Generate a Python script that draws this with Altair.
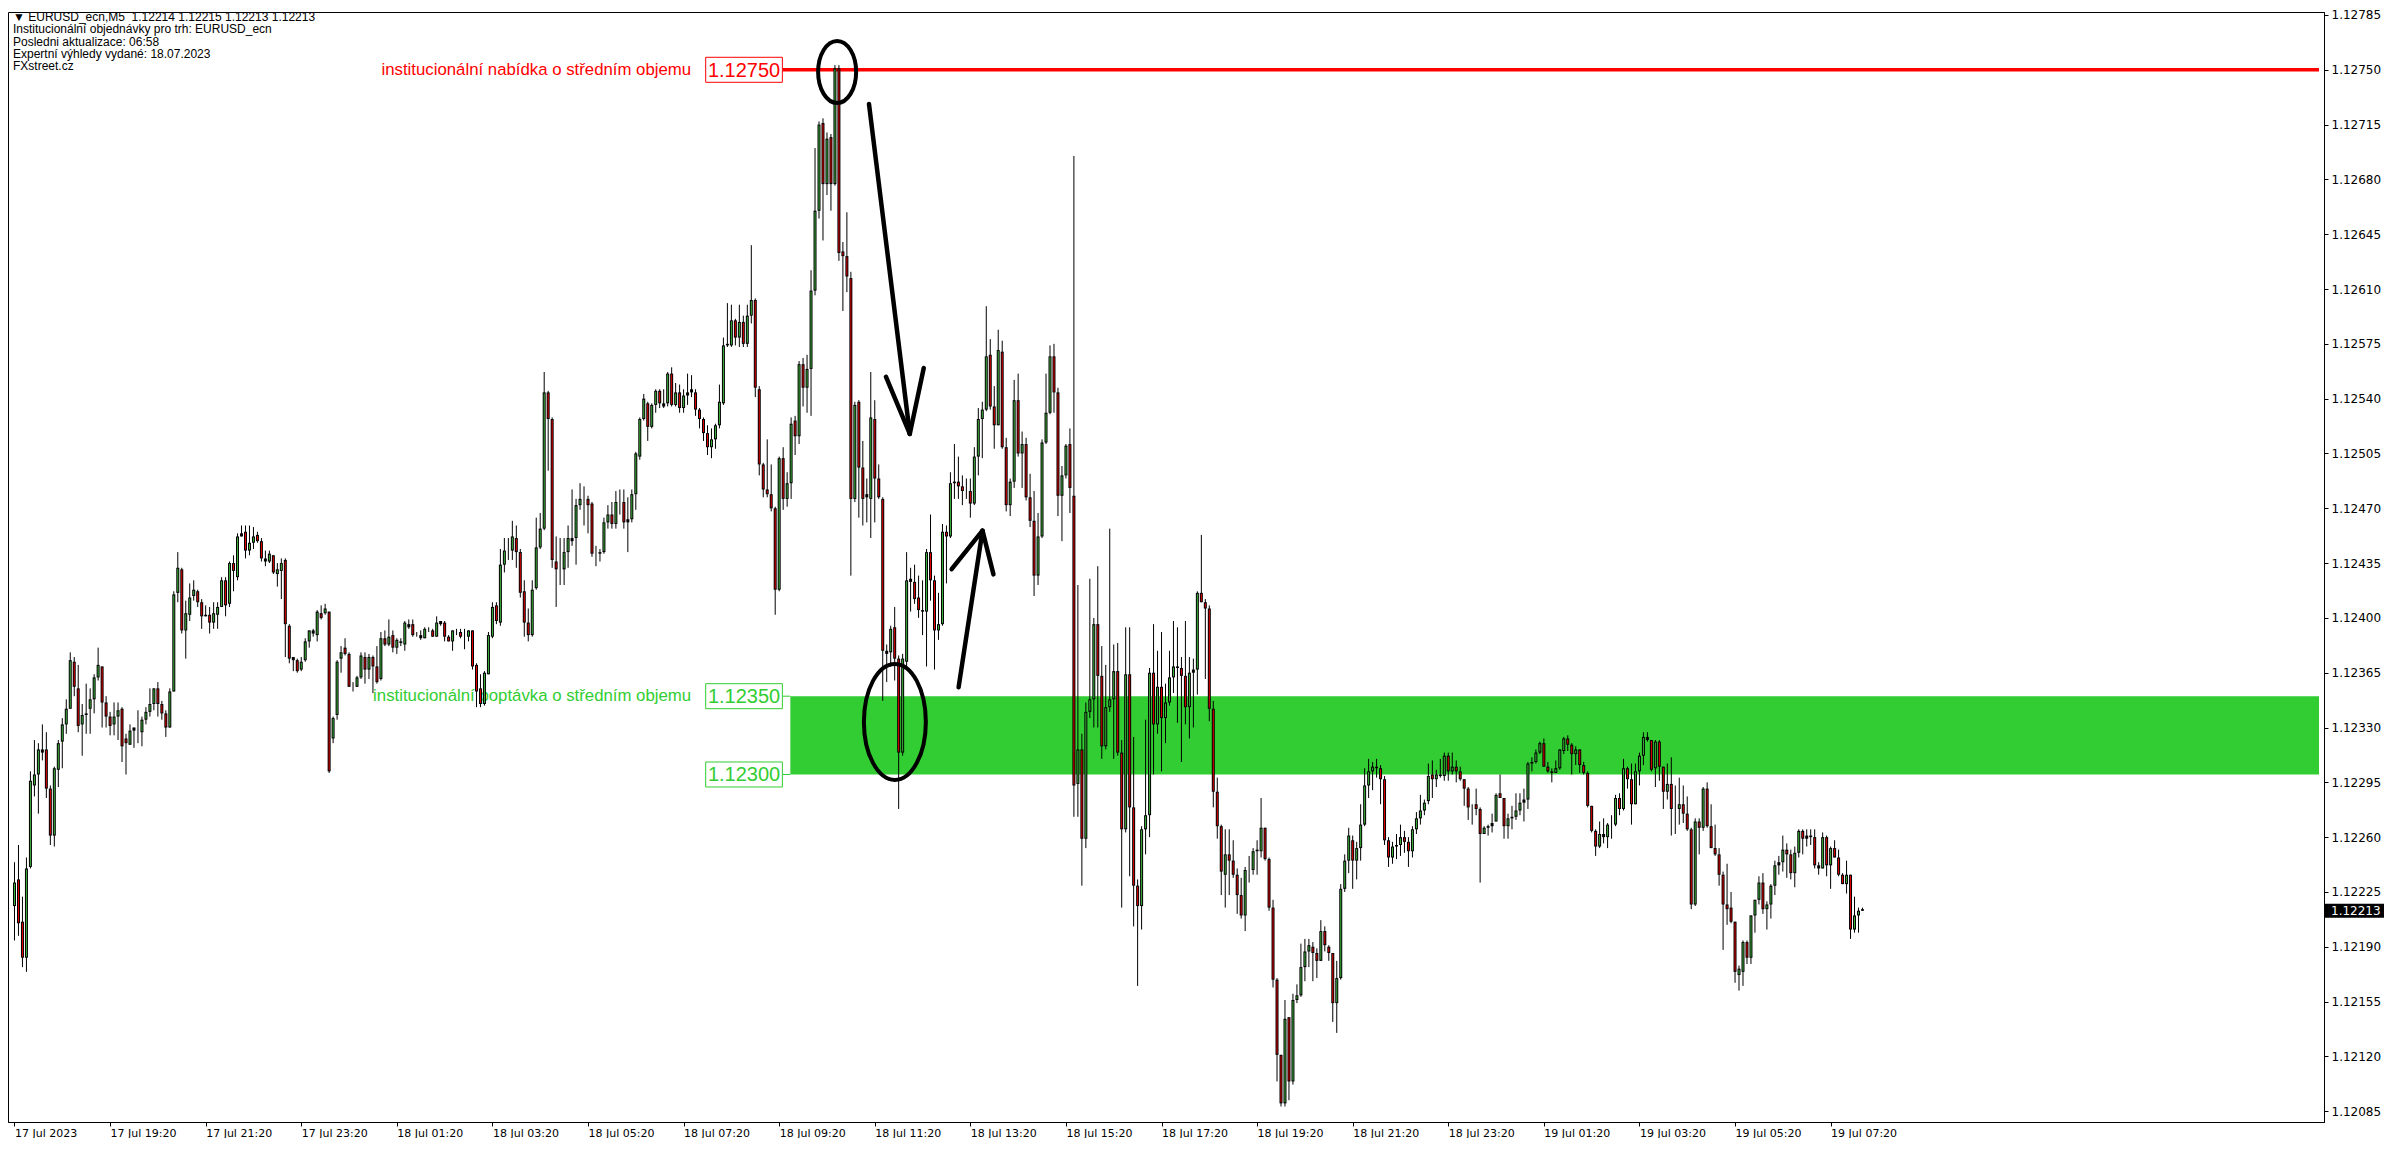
import altair as alt
import pandas as pd

# ---------------- OHLC data (EURUSD M5, bar 0 = 17 Jul 17:20) ----------------
opens = [
1.12216,1.12233,1.12206,1.12183,1.12241,1.12293,1.12300,1.12314,1.12316,1.12291,
1.12261,1.12303,1.12321,1.12332,1.12342,1.12372,1.12355,1.12332,1.12338,1.12342,
1.12348,1.12362,1.12369,1.12346,1.12337,1.12332,1.12337,1.12342,1.12323,1.12319,
1.12330,1.12327,1.12327,1.12335,1.12340,1.12345,1.12355,1.12345,1.12339,1.12330,
1.12353,1.12416,1.12431,1.12392,1.12402,1.12414,1.12417,1.12410,1.12401,1.12402,
1.12397,1.12402,1.12407,1.12424,1.12409,1.12435,1.12426,1.12452,1.12455,1.12443,
1.12448,1.12453,1.12449,1.12438,1.12436,1.12440,1.12428,1.12430,1.12437,1.12395,
1.12375,1.12373,1.12367,1.12373,1.12385,1.12392,1.12389,1.12403,1.12403,1.12404,
1.12323,1.12338,1.12374,1.12381,1.12377,1.12356,1.12356,1.12362,1.12375,1.12367,
1.12375,1.12369,1.12361,1.12387,1.12383,1.12389,1.12381,1.12385,1.12383,1.12396,
1.12396,1.12389,1.12389,1.12387,1.12392,1.12392,1.12388,1.12396,1.12397,1.12388,
1.12385,1.12392,1.12391,1.12388,1.12388,1.12392,1.12370,1.12355,1.12345,1.12364,
1.12388,1.12408,1.12397,1.12434,1.12443,1.12443,1.12451,1.12442,1.12417,1.12397,
1.12389,1.12419,1.12445,1.12457,1.12544,1.12527,1.12436,1.12431,1.12431,1.12442,
1.12449,1.12451,1.12472,1.12476,1.12476,1.12473,1.12441,1.12441,1.12442,1.12461,
1.12466,1.12460,1.12474,1.12474,1.12461,1.12463,1.12479,1.12503,1.12527,1.12537,
1.12522,1.12536,1.12545,1.12537,1.12537,1.12556,1.12536,1.12544,1.12534,1.12542,
1.12546,1.12544,1.12533,1.12527,1.12518,1.12509,1.12514,1.12523,1.12537,1.12575,
1.12574,1.12590,1.12579,1.12589,1.12575,1.12593,1.12603,1.12546,1.12498,1.12482,
1.12479,1.12470,1.12418,1.12502,1.12476,1.12486,1.12526,1.12516,1.12562,1.12547,
1.12559,1.12609,1.12660,1.12716,1.12677,1.12707,1.12677,1.12751,1.12634,1.12631,
1.12617,1.12476,1.12538,1.12496,1.12479,1.12476,1.12527,1.12489,1.12476,1.12377,
1.12378,1.12394,1.12374,1.12314,1.12372,1.12425,1.12423,1.12413,1.12405,1.12404,
1.12442,1.12424,1.12392,1.12396,1.12455,1.12452,1.12486,1.12487,1.12484,1.12481,
1.12481,1.12473,1.12503,1.12527,1.12533,1.12568,1.12535,1.12523,1.12570,1.12509,
1.12472,1.12487,1.12539,1.12505,1.12511,1.12477,1.12462,1.12427,1.12452,1.12512,
1.12531,1.12567,1.12544,1.12478,1.12491,1.12511,1.12478,1.12294,1.12316,1.12259,
1.12340,1.12348,1.12396,1.12363,1.12318,1.12343,1.12348,1.12366,1.12314,1.12265,
1.12364,1.12279,1.12229,1.12216,1.12265,1.12274,1.12365,1.12332,1.12356,1.12336,
1.12346,1.12362,1.12369,1.12368,1.12363,1.12343,1.12365,1.12367,1.12416,1.12410,
1.12406,1.12342,1.12289,1.12267,1.12236,1.12249,1.12245,1.12236,1.12223,1.12210,
1.12239,1.12239,1.12252,1.12251,1.12266,1.12246,1.12215,1.12169,1.12121,1.12090,
1.12145,1.12104,1.12156,1.12159,1.12177,1.12187,1.12190,1.12186,1.12181,1.12200,
1.12190,1.12186,1.12154,1.12170,1.12227,1.12245,1.12258,1.12245,1.12253,1.12268,
1.12293,1.12302,1.12305,1.12304,1.12297,1.12258,1.12247,1.12254,1.12255,1.12260,
1.12257,1.12251,1.12265,1.12272,1.12277,1.12283,1.12300,1.12297,1.12300,1.12299,
1.12312,1.12302,1.12305,1.12302,1.12297,1.12291,1.12279,1.12281,1.12278,1.12262,
1.12266,1.12267,1.12270,1.12288,1.12285,1.12267,1.12272,1.12273,1.12277,1.12282,
1.12284,1.12307,1.12308,1.12314,1.12320,1.12305,1.12302,1.12301,1.12304,1.12315,
1.12323,1.12319,1.12313,1.12316,1.12306,1.12301,1.12280,1.12264,1.12254,1.12262,
1.12260,1.12268,1.12268,1.12285,1.12278,1.12304,1.12297,1.12281,1.12302,1.12312,
1.12324,1.12322,1.12304,1.12321,1.12305,1.12289,1.12294,1.12278,1.12278,1.12281,
1.12275,1.12265,1.12217,1.12270,1.12266,1.12291,1.12267,1.12253,1.12249,1.12236,
1.12217,1.12215,1.12206,1.12172,1.12174,1.12193,1.12183,1.12210,1.12220,1.12231,
1.12214,1.12217,1.12229,1.12242,1.12244,1.12252,1.12249,1.12237,1.12250,1.12264,
1.12259,1.12261,1.12260,1.12242,1.12240,1.12260,1.12242,1.12253,1.12247,1.12236,
1.12230,1.12236,1.12201,1.12210,1.12214,
]

highs = [
1.12244,1.12255,1.12222,1.12247,1.12302,1.12322,1.12320,1.12332,1.12327,1.12293,
1.12305,1.12322,1.12336,1.12348,1.12378,1.12375,1.12370,1.12345,1.12358,1.12355,
1.12364,1.12381,1.12369,1.12350,1.12340,1.12346,1.12346,1.12343,1.12326,1.12332,
1.12330,1.12341,1.12337,1.12343,1.12355,1.12355,1.12359,1.12347,1.12341,1.12355,
1.12417,1.12442,1.12432,1.12411,1.12422,1.12424,1.12418,1.12412,1.12408,1.12407,
1.12410,1.12410,1.12426,1.12426,1.12436,1.12440,1.12454,1.12459,1.12459,1.12459,
1.12458,1.12455,1.12451,1.12443,1.12443,1.12440,1.12435,1.12438,1.12438,1.12396,
1.12375,1.12374,1.12375,1.12387,1.12392,1.12393,1.12405,1.12408,1.12409,1.12404,
1.12337,1.12373,1.12382,1.12387,1.12378,1.12359,1.12363,1.12378,1.12378,1.12377,
1.12376,1.12382,1.12391,1.12392,1.12399,1.12392,1.12387,1.12387,1.12398,1.12399,
1.12399,1.12391,1.12392,1.12394,1.12394,1.12393,1.12401,1.12398,1.12398,1.12389,
1.12392,1.12393,1.12393,1.12393,1.12392,1.12392,1.12371,1.12364,1.12366,1.12391,
1.12410,1.12410,1.12444,1.12451,1.12451,1.12462,1.12459,1.12444,1.12424,1.12406,
1.12424,1.12464,1.12467,1.12557,1.12545,1.12528,1.12452,1.12451,1.12451,1.12459,
1.12482,1.12476,1.12486,1.12484,1.12478,1.12474,1.12446,1.12444,1.12464,1.12472,
1.12474,1.12481,1.12482,1.12482,1.12477,1.12482,1.12506,1.12528,1.12543,1.12538,
1.12537,1.12546,1.12546,1.12546,1.12557,1.12560,1.12550,1.12549,1.12546,1.12556,
1.12555,1.12546,1.12534,1.12528,1.12523,1.12521,1.12524,1.12549,1.12579,1.12601,
1.12600,1.12591,1.12600,1.12593,1.12600,1.12638,1.12604,1.12548,1.12499,1.12514,
1.12498,1.12471,1.12503,1.12509,1.12493,1.12528,1.12529,1.12564,1.12566,1.12568,
1.12622,1.12700,1.12717,1.12719,1.12710,1.12709,1.12753,1.12753,1.12640,1.12659,
1.12621,1.12538,1.12539,1.12513,1.12489,1.12557,1.12539,1.12498,1.12477,1.12383,
1.12395,1.12407,1.12376,1.12377,1.12442,1.12432,1.12434,1.12427,1.12424,1.12444,
1.12466,1.12427,1.12416,1.12460,1.12459,1.12493,1.12511,1.12503,1.12491,1.12489,
1.12489,1.12509,1.12534,1.12538,1.12599,1.12578,1.12548,1.12584,1.12577,1.12515,
1.12489,1.12552,1.12556,1.12519,1.12515,1.12492,1.12481,1.12467,1.12514,1.12556,
1.12574,1.12575,1.12547,1.12497,1.12511,1.12521,1.12695,1.12421,1.12326,1.12346,
1.12425,1.12400,1.12433,1.12382,1.12370,1.12457,1.12383,1.12384,1.12322,1.12394,
1.12394,1.12324,1.12233,1.12267,1.12335,1.12368,1.12396,1.12379,1.12391,1.12358,
1.12379,1.12398,1.12394,1.12375,1.12398,1.12375,1.12374,1.12417,1.12453,1.12412,
1.12408,1.12347,1.12298,1.12268,1.12265,1.12265,1.12258,1.12240,1.12234,1.12241,
1.12248,1.12253,1.12258,1.12285,1.12266,1.12247,1.12220,1.12170,1.12121,1.12156,
1.12145,1.12160,1.12166,1.12192,1.12195,1.12195,1.12193,1.12189,1.12207,1.12203,
1.12191,1.12186,1.12181,1.12230,1.12249,1.12266,1.12261,1.12257,1.12281,1.12304,
1.12310,1.12308,1.12310,1.12306,1.12299,1.12260,1.12257,1.12262,1.12268,1.12264,
1.12260,1.12267,1.12276,1.12287,1.12284,1.12307,1.12309,1.12303,1.12310,1.12314,
1.12314,1.12314,1.12309,1.12305,1.12297,1.12292,1.12281,1.12291,1.12279,1.12267,
1.12268,1.12275,1.12288,1.12300,1.12285,1.12275,1.12280,1.12288,1.12288,1.12291,
1.12308,1.12311,1.12316,1.12321,1.12323,1.12308,1.12304,1.12309,1.12316,1.12324,
1.12325,1.12320,1.12318,1.12316,1.12308,1.12302,1.12280,1.12265,1.12270,1.12272,
1.12269,1.12274,1.12287,1.12288,1.12310,1.12305,1.12307,1.12307,1.12314,1.12327,
1.12327,1.12322,1.12322,1.12322,1.12305,1.12307,1.12311,1.12293,1.12298,1.12293,
1.12286,1.12266,1.12272,1.12272,1.12292,1.12295,1.12281,1.12268,1.12253,1.12238,
1.12243,1.12225,1.12206,1.12178,1.12194,1.12194,1.12210,1.12220,1.12235,1.12237,
1.12219,1.12230,1.12245,1.12248,1.12261,1.12256,1.12252,1.12254,1.12265,1.12265,
1.12265,1.12265,1.12265,1.12244,1.12263,1.12261,1.12254,1.12258,1.12252,1.12237,
1.12245,1.12236,1.12222,1.12215,1.12215,
]

lows = [
1.12194,1.12197,1.12177,1.12174,1.12240,1.12286,1.12275,1.12309,1.12285,1.12255,
1.12254,1.12292,1.12304,1.12326,1.12342,1.12350,1.12327,1.12312,1.12326,1.12326,
1.12339,1.12360,1.12330,1.12330,1.12325,1.12325,1.12322,1.12308,1.12300,1.12319,
1.12317,1.12320,1.12318,1.12332,1.12337,1.12341,1.12337,1.12335,1.12324,1.12330,
1.12353,1.12410,1.12390,1.12374,1.12398,1.12411,1.12407,1.12393,1.12401,1.12390,
1.12393,1.12393,1.12407,1.12401,1.12407,1.12417,1.12424,1.12452,1.12438,1.12440,
1.12444,1.12448,1.12436,1.12433,1.12435,1.12428,1.12420,1.12412,1.12375,1.12371,
1.12366,1.12365,1.12366,1.12372,1.12381,1.12388,1.12385,1.12399,1.12402,1.12301,
1.12320,1.12335,1.12365,1.12376,1.12356,1.12353,1.12356,1.12361,1.12358,1.12361,
1.12352,1.12358,1.12360,1.12382,1.12382,1.12378,1.12377,1.12382,1.12379,1.12393,
1.12388,1.12388,1.12386,1.12387,1.12391,1.12388,1.12388,1.12395,1.12385,1.12385,
1.12379,1.12389,1.12387,1.12380,1.12385,1.12367,1.12343,1.12343,1.12344,1.12364,
1.12387,1.12396,1.12395,1.12429,1.12437,1.12437,1.12432,1.12413,1.12388,1.12385,
1.12388,1.12418,1.12444,1.12456,1.12494,1.12432,1.12407,1.12421,1.12421,1.12432,
1.12446,1.12434,1.12469,1.12459,1.12454,1.12439,1.12433,1.12436,1.12441,1.12457,
1.12457,1.12457,1.12466,1.12457,1.12442,1.12461,1.12469,1.12501,1.12526,1.12513,
1.12521,1.12531,1.12534,1.12534,1.12535,1.12535,1.12535,1.12531,1.12531,1.12536,
1.12541,1.12529,1.12521,1.12513,1.12504,1.12502,1.12508,1.12521,1.12536,1.12573,
1.12573,1.12574,1.12573,1.12573,1.12573,1.12588,1.12541,1.12491,1.12477,1.12477,
1.12468,1.12402,1.12417,1.12469,1.12471,1.12476,1.12504,1.12511,1.12535,1.12531,
1.12529,1.12606,1.12655,1.12641,1.12670,1.12660,1.12676,1.12628,1.12596,1.12608,
1.12427,1.12474,1.12464,1.12459,1.12461,1.12451,1.12461,1.12476,1.12347,1.12359,
1.12369,1.12360,1.12278,1.12312,1.12369,1.12404,1.12409,1.12400,1.12389,1.12369,
1.12411,1.12367,1.12386,1.12395,1.12422,1.12451,1.12476,1.12476,1.12472,1.12476,
1.12464,1.12472,1.12491,1.12502,1.12532,1.12533,1.12508,1.12523,1.12508,1.12468,
1.12465,1.12483,1.12503,1.12483,1.12475,1.12458,1.12414,1.12421,1.12451,1.12511,
1.12530,1.12531,1.12465,1.12449,1.12489,1.12467,1.12273,1.12273,1.12229,1.12253,
1.12336,1.12330,1.12330,1.12310,1.12316,1.12340,1.12310,1.12312,1.12215,1.12263,
1.12235,1.12203,1.12165,1.12201,1.12249,1.12260,1.12300,1.12326,1.12302,1.12320,
1.12344,1.12352,1.12333,1.12308,1.12332,1.12323,1.12330,1.12351,1.12410,1.12361,
1.12334,1.12279,1.12259,1.12223,1.12215,1.12223,1.12234,1.12211,1.12208,1.12200,
1.12231,1.12236,1.12236,1.12247,1.12245,1.12213,1.12164,1.12104,1.12088,1.12088,
1.12092,1.12102,1.12154,1.12158,1.12168,1.12177,1.12168,1.12170,1.12181,1.12187,
1.12181,1.12142,1.12135,1.12169,1.12225,1.12237,1.12227,1.12233,1.12245,1.12267,
1.12285,1.12290,1.12298,1.12281,1.12255,1.12241,1.12243,1.12246,1.12248,1.12250,
1.12241,1.12247,1.12262,1.12268,1.12274,1.12281,1.12285,1.12292,1.12298,1.12296,
1.12296,1.12300,1.12295,1.12296,1.12280,1.12271,1.12268,1.12274,1.12231,1.12262,
1.12261,1.12263,1.12270,1.12285,1.12259,1.12259,1.12265,1.12271,1.12274,1.12270,
1.12278,1.12302,1.12307,1.12313,1.12305,1.12301,1.12295,1.12301,1.12303,1.12313,
1.12315,1.12300,1.12306,1.12301,1.12300,1.12279,1.12263,1.12248,1.12253,1.12256,
1.12253,1.12259,1.12267,1.12274,1.12277,1.12291,1.12268,1.12281,1.12293,1.12306,
1.12321,1.12302,1.12292,1.12296,1.12278,1.12284,1.12261,1.12262,1.12268,1.12269,
1.12264,1.12214,1.12216,1.12249,1.12264,1.12266,1.12253,1.12248,1.12229,1.12188,
1.12204,1.12205,1.12167,1.12162,1.12165,1.12179,1.12179,1.12199,1.12217,1.12211,
1.12201,1.12208,1.12223,1.12236,1.12238,1.12234,1.12233,1.12228,1.12247,1.12249,
1.12254,1.12255,1.12240,1.12236,1.12240,1.12235,1.12227,1.12247,1.12235,1.12230,
1.12224,1.12195,1.12199,1.12199,1.12213,
]

closes = [
1.12231,1.12205,1.12183,1.12240,1.12296,1.12300,1.12316,1.12316,1.12291,1.12261,
1.12304,1.12320,1.12332,1.12342,1.12373,1.12356,1.12331,1.12338,1.12339,1.12348,
1.12362,1.12370,1.12346,1.12337,1.12331,1.12337,1.12341,1.12318,1.12320,1.12328,
1.12328,1.12327,1.12335,1.12340,1.12345,1.12355,1.12345,1.12339,1.12330,1.12353,
1.12415,1.12432,1.12392,1.12403,1.12413,1.12418,1.12410,1.12401,1.12402,1.12397,
1.12403,1.12407,1.12424,1.12408,1.12435,1.12430,1.12452,1.12454,1.12443,1.12448,
1.12452,1.12449,1.12438,1.12436,1.12441,1.12429,1.12431,1.12435,1.12396,1.12374,
1.12373,1.12366,1.12372,1.12385,1.12392,1.12390,1.12404,1.12400,1.12406,1.12302,
1.12336,1.12372,1.12378,1.12377,1.12356,1.12356,1.12362,1.12376,1.12367,1.12375,
1.12369,1.12359,1.12387,1.12383,1.12388,1.12381,1.12386,1.12384,1.12397,1.12394,
1.12389,1.12389,1.12387,1.12393,1.12392,1.12388,1.12397,1.12398,1.12388,1.12385,
1.12392,1.12392,1.12388,1.12388,1.12392,1.12369,1.12353,1.12345,1.12365,1.12389,
1.12407,1.12398,1.12434,1.12443,1.12443,1.12452,1.12442,1.12416,1.12397,1.12389,
1.12418,1.12445,1.12457,1.12544,1.12527,1.12437,1.12431,1.12431,1.12442,1.12451,
1.12451,1.12472,1.12476,1.12476,1.12472,1.12441,1.12441,1.12442,1.12461,1.12466,
1.12460,1.12474,1.12474,1.12461,1.12463,1.12479,1.12505,1.12527,1.12540,1.12522,
1.12536,1.12545,1.12537,1.12535,1.12556,1.12536,1.12544,1.12534,1.12542,1.12544,
1.12544,1.12533,1.12527,1.12518,1.12509,1.12514,1.12523,1.12538,1.12574,1.12574,
1.12590,1.12579,1.12589,1.12575,1.12593,1.12603,1.12547,1.12498,1.12482,1.12479,
1.12470,1.12418,1.12502,1.12476,1.12486,1.12524,1.12516,1.12562,1.12547,1.12559,
1.12609,1.12660,1.12715,1.12677,1.12706,1.12677,1.12751,1.12633,1.12631,1.12618,
1.12476,1.12536,1.12496,1.12476,1.12477,1.12528,1.12489,1.12477,1.12379,1.12379,
1.12393,1.12374,1.12314,1.12374,1.12424,1.12423,1.12412,1.12405,1.12404,1.12442,
1.12424,1.12392,1.12396,1.12455,1.12452,1.12486,1.12487,1.12484,1.12481,1.12481,
1.12473,1.12503,1.12527,1.12533,1.12567,1.12535,1.12523,1.12571,1.12509,1.12472,
1.12487,1.12539,1.12505,1.12511,1.12477,1.12462,1.12427,1.12452,1.12512,1.12531,
1.12567,1.12544,1.12478,1.12491,1.12510,1.12483,1.12293,1.12316,1.12259,1.12340,
1.12348,1.12396,1.12363,1.12318,1.12343,1.12348,1.12366,1.12314,1.12265,1.12364,
1.12279,1.12229,1.12216,1.12265,1.12274,1.12365,1.12332,1.12356,1.12336,1.12346,
1.12362,1.12369,1.12368,1.12363,1.12343,1.12365,1.12367,1.12416,1.12410,1.12406,
1.12342,1.12289,1.12267,1.12238,1.12249,1.12245,1.12236,1.12223,1.12210,1.12239,
1.12239,1.12251,1.12251,1.12266,1.12246,1.12215,1.12169,1.12121,1.12090,1.12144,
1.12104,1.12156,1.12159,1.12177,1.12187,1.12191,1.12186,1.12181,1.12200,1.12191,
1.12186,1.12154,1.12170,1.12227,1.12245,1.12261,1.12245,1.12253,1.12268,1.12293,
1.12302,1.12305,1.12304,1.12297,1.12258,1.12247,1.12254,1.12255,1.12260,1.12257,
1.12251,1.12265,1.12272,1.12277,1.12282,1.12299,1.12297,1.12300,1.12299,1.12312,
1.12302,1.12305,1.12302,1.12297,1.12291,1.12279,1.12279,1.12278,1.12262,1.12266,
1.12267,1.12269,1.12287,1.12285,1.12267,1.12272,1.12273,1.12277,1.12282,1.12284,
1.12307,1.12308,1.12314,1.12320,1.12305,1.12302,1.12301,1.12304,1.12316,1.12323,
1.12319,1.12313,1.12316,1.12306,1.12301,1.12280,1.12264,1.12254,1.12262,1.12260,
1.12268,1.12268,1.12285,1.12278,1.12304,1.12297,1.12281,1.12302,1.12312,1.12324,
1.12322,1.12303,1.12321,1.12305,1.12289,1.12294,1.12278,1.12278,1.12281,1.12275,
1.12265,1.12217,1.12270,1.12266,1.12291,1.12267,1.12253,1.12249,1.12236,1.12217,
1.12214,1.12206,1.12174,1.12176,1.12193,1.12183,1.12210,1.12220,1.12231,1.12214,
1.12217,1.12229,1.12242,1.12244,1.12252,1.12249,1.12237,1.12250,1.12264,1.12259,
1.12261,1.12260,1.12242,1.12240,1.12260,1.12242,1.12253,1.12247,1.12236,1.12230,
1.12236,1.12201,1.12210,1.12213,1.12213,
]

# ---------------- axis labels ----------------
time_tick_bars = [0, 24, 48, 72, 96, 120, 144, 168, 192, 216, 240, 264, 288, 312,
                  336, 360, 384, 408, 432, 456]
time_labels = ["17 Jul 2023", "17 Jul 19:20", "17 Jul 21:20", "17 Jul 23:20",
               "18 Jul 01:20", "18 Jul 03:20", "18 Jul 05:20", "18 Jul 07:20",
               "18 Jul 09:20", "18 Jul 11:20", "18 Jul 13:20", "18 Jul 15:20",
               "18 Jul 17:20", "18 Jul 19:20", "18 Jul 21:20", "18 Jul 23:20",
               "19 Jul 01:20", "19 Jul 03:20", "19 Jul 05:20", "19 Jul 07:20"]
price_ticks = [1.12085, 1.12120, 1.12155, 1.12190, 1.12225, 1.12260, 1.12295,
               1.12330, 1.12365, 1.12400, 1.12435, 1.12470, 1.12505, 1.12540,
               1.12575, 1.12610, 1.12645, 1.12680, 1.12715, 1.12750, 1.12785]

info_lines = ["\u25BC EURUSD_ecn,M5\u00a0\u00a01.12214 1.12215 1.12213 1.12213",
              "Institucionální objednávky pro trh: EURUSD_ecn",
              "Posledni aktualizace: 06:58",
              "Expertní výhledy vydané: 18.07.2023",
              "FXstreet.cz"]

# ---------------- institutional levels ----------------
supply_level = 1.12750
demand_top = 1.12350
demand_bottom = 1.12300
last_price = 1.12213
supply_text = "institucionální nabídka o středním objemu"
demand_text = "institucionální poptávka o středním objemu"

# annotation anchors (bar index, price)
level_box_bars = (173.55, 192.8)
level_start_bar = 194.8
text_end_bar = 169.9
arrow_segments = pd.DataFrame({
    "x":  [214.55, 218.8, 228.3, 237.05, 235.3, 245.8],
    "y":  [1.127282, 1.125540, 1.125596, 1.123557, 1.124311, 1.124278],
    "x2": [224.8, 224.8, 224.8, 243.05, 243.05, 243.05],
    "y2": [1.125175, 1.125175, 1.125175, 1.124557, 1.124557, 1.124557],
})
top_circle = pd.DataFrame({"x": [206.55], "y": [1.127486]})
bottom_circle = pd.DataFrame({"x": [221.05], "y": [1.123336]})

# ---------------- layout ----------------
W, H = 2316, 1110
X_DOM = [-0.375, -0.375 + W / 4.0]
Y_DOM = [1.120781, 1.127869]
GREEN = "#32CD32"
BULL = "#3CB43C"
BEAR = "#E60000"
FONT = "Liberation Sans"
AXFONT = "DejaVu Sans"

n = min(len(opens), len(highs), len(lows), len(closes))
df = pd.DataFrame({"i": list(range(n)), "open": opens[:n], "high": highs[:n],
                   "low": lows[:n], "close": closes[:n]})
df["dir"] = ["up" if c >= o else "down" for o, c in zip(df["open"], df["close"])]
df["top"] = [max(o, c) for o, c in zip(df["open"], df["close"])]
df["bot"] = [min(o, c) for o, c in zip(df["open"], df["close"])]
df["bodyh"] = df["top"] - df["bot"]

xs = alt.Scale(domain=X_DOM, nice=False, zero=False)
ys = alt.Scale(domain=Y_DOM, nice=False, zero=False)

label_js = "[" + ",".join("'" + s + "'" for s in time_labels) + "][round(datum.value/24)]"

x_axis = alt.Axis(values=time_tick_bars, labelExpr=label_js, labelAlign="left",
                  labelBaseline="top", labelPadding=1, tickSize=4, labelFlush=False,
                  labelOverlap=False, grid=False, title=None, labelFont=AXFONT,
                  labelFontSize=11, labelColor="black", tickColor="black",
                  domainColor="black")
y_axis = alt.Axis(orient="right", values=price_ticks, format=".5f", grid=False,
                  title=None, tickSize=4, labelPadding=3, labelFlush=False,
                  labelOverlap=False, labelFont=AXFONT, labelFontSize=12,
                  labelColor="black", tickColor="black", domainColor="black")


def X(field):
    return alt.X(field, type="quantitative", scale=xs, axis=x_axis)


def Y(field):
    return alt.Y(field, type="quantitative", scale=ys, axis=y_axis)


base = alt.Chart(df)

# demand zone
zone = alt.Chart(pd.DataFrame({"x": [level_start_bar], "x2": [X_DOM[1]],
                               "y": [demand_top], "y2": [demand_bottom]})).mark_rect(
    color=GREEN).encode(x=X("x"), x2="x2:Q", y=Y("y"), y2="y2:Q")

wicks = base.mark_rule(color="black", strokeWidth=1).encode(
    x=X("i"), y=Y("low"), y2="high:Q")

body_outline = base.mark_bar(size=3, color="black").encode(
    x=X("i"), y=Y("top"), y2="bot:Q")

body_fill = base.transform_filter(alt.datum.bodyh >= 0.000022).mark_bar(
    size=1, yOffset=1, y2Offset=-1).encode(
    x=X("i"), y=Y("top"), y2="bot:Q",
    color=alt.Color("dir:N", scale=alt.Scale(domain=["up", "down"], range=[BULL, BEAR]),
                    legend=None))

# supply line
supply_line = alt.Chart(pd.DataFrame({"x": [level_box_bars[1]], "x2": [X_DOM[1]],
                                      "y": [supply_level]})).mark_rule(
    color="#FF0000", strokeWidth=3.5).encode(x=X("x"), x2="x2:Q", y=Y("y"))

demand_conn = alt.Chart(pd.DataFrame({"x": [level_box_bars[1]] * 2,
                                      "x2": [level_start_bar] * 2,
                                      "y": [demand_top, demand_bottom]})).mark_rule(
    color=GREEN, strokeWidth=1).encode(x=X("x"), x2="x2:Q", y=Y("y"))


def level_box(prices, color):
    d = pd.DataFrame({"x": [level_box_bars[0]] * len(prices),
                      "x2": [level_box_bars[1]] * len(prices),
                      "xm": [(level_box_bars[0] + level_box_bars[1]) / 2] * len(prices),
                      "p": prices,
                      "t": ["%.5f" % p for p in prices]})
    r = alt.Chart(d).mark_rect(fill="white", stroke=color, strokeWidth=1,
                               yOffset=-12.5, y2Offset=12.5).encode(
        x=X("x"), x2="x2:Q", y=Y("p"), y2="p:Q")
    t = alt.Chart(d).mark_text(color=color, font=FONT, fontSize=20, align="center",
                               baseline="middle", dy=1).encode(
        x=X("xm"), y=Y("p"), text="t:N")
    return [r, t]


def level_text(price, text, color):
    return alt.Chart(pd.DataFrame({"x": [text_end_bar], "p": [price], "t": [text]})).mark_text(
        color=color, font=FONT, fontSize=16.8, align="right", baseline="middle").encode(
        x=X("x"), y=Y("p"), text="t:N")


arrows = alt.Chart(arrow_segments).mark_rule(color="black", strokeWidth=4.5,
                                             strokeCap="round").encode(
    x=X("x"), x2="x2:Q", y=Y("y"), y2="y2:Q")


def ellipse(d, w, h):
    a = w / float(h)
    path = "M %.3f 0 A %.3f 1 0 1 0 %.3f 0 A %.3f 1 0 1 0 %.3f 0 Z" % (-a, a, a, a, -a)
    return alt.Chart(d).mark_point(shape=path, size=h * h, filled=False, stroke="black",
                                   strokeWidth=4, opacity=1).encode(x=X("x"), y=Y("y"))


one = pd.DataFrame({"a": [0]})
info = alt.Chart(one).mark_text(font=FONT, fontSize=12, align="left", baseline="top",
                                lineHeight=12.3, color="black").encode(
    x=alt.value(5), y=alt.value(0), text=alt.value(info_lines))

last_df = pd.DataFrame({"p": [last_price], "t": ["%.5f" % last_price]})
last_box = alt.Chart(last_df).mark_rect(color="black", yOffset=-7, y2Offset=7).encode(
    x=alt.value(W + 1), x2=alt.value(W + 60), y=Y("p"), y2="p:Q")
last_txt = alt.Chart(last_df).mark_text(color="white", font=AXFONT, fontSize=12,
                                        align="left", baseline="middle").encode(
    x=alt.value(W + 7), y=Y("p"), text="t:N")

layers = [zone, demand_conn, supply_line,
          level_text(supply_level, supply_text, "#FF0000"),
          level_text(demand_top, demand_text, GREEN),
          wicks, body_outline, body_fill]
layers += level_box([supply_level], "#FF0000")
layers += level_box([demand_top, demand_bottom], GREEN)
layers += [arrows,
           ellipse(top_circle, 38, 62),
           ellipse(bottom_circle, 62, 116),
           info, last_box, last_txt]

chart = alt.layer(*layers).properties(
    width=W, height=H, padding=0, background="white"
).configure_view(stroke="black", strokeWidth=1)

chart.save("out.html", embed_options={"renderer": "svg", "actions": False})
